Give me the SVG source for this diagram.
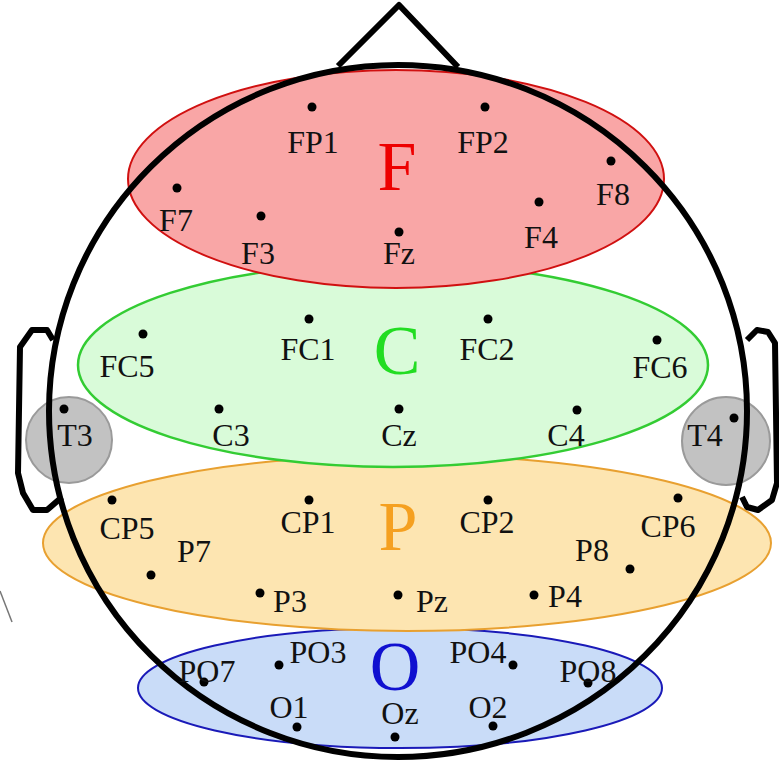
<svg xmlns="http://www.w3.org/2000/svg" width="779" height="763" viewBox="0 0 779 763">
<style>
.lbl{font-family:"Liberation Serif","Times New Roman",serif;font-size:32px;fill:#111;text-anchor:middle}
.big{font-family:"Liberation Serif","Times New Roman",serif;font-size:70px;text-anchor:middle}
.dot{fill:#000}
.outline{fill:none;stroke:#000;stroke-width:6;stroke-linejoin:round}
</style>
<rect width="779" height="763" fill="#fff"/>
<g id="regions">
<ellipse id="region-O" cx="400" cy="688" rx="262" ry="60" fill="#c9dcf8" stroke="#1a1ab8" stroke-width="2"/>
<ellipse id="region-P" cx="407" cy="543" rx="364" ry="88" fill="#fde5b1" stroke="#e8a030" stroke-width="2"/>
<ellipse id="region-C" cx="393" cy="365" rx="315" ry="102" fill="#d9fbd9" stroke="#33cc33" stroke-width="2.5"/>
<ellipse id="region-F" cx="396" cy="179" rx="268" ry="109" fill="#f9a6a6" stroke="#d01010" stroke-width="2"/>
<circle id="T3-zone" cx="69" cy="440" r="43" fill="#c2c2c2" stroke="#9a9a9a" stroke-width="2"/>
<circle id="T4-zone" cx="726" cy="441" r="44" fill="#c2c2c2" stroke="#9a9a9a" stroke-width="2"/>
</g>
<g id="head">
<ellipse cx="398" cy="411" rx="349" ry="346" class="outline"/>
<polyline class="outline" points="338,66 399,5 458,67"/>
<path class="outline" d="M53,340 L47,330 L32,330 L20,347 L18,473 L23,493 L33,510 L47,510 L62,497"/>
<path class="outline" d="M747,340 L757,330 L768,332 L775,343 L777,483 L772,500 L758,510 L747,507 L742,497"/>
<line x1="0" y1="591" x2="12" y2="622" stroke="#777" stroke-width="1.5"/>
</g>
<g id="region-letters">
<text class="big" x="397" y="190" fill="#ee0000">F</text>
<text class="big" x="397" y="374" fill="#22dd22">C</text>
<text class="big" x="398" y="550" fill="#f5a020">P</text>
<text class="big" x="395" y="690" fill="#1010d0">O</text>
</g>
<g id="FP1"><circle class="dot" cx="312" cy="107" r="4.5"/><text class="lbl" x="313" y="153">FP1</text></g>
<g id="FP2"><circle class="dot" cx="485" cy="107" r="4.5"/><text class="lbl" x="483" y="153">FP2</text></g>
<g id="F7"><circle class="dot" cx="177" cy="188" r="4.5"/><text class="lbl" x="176" y="231">F7</text></g>
<g id="F3"><circle class="dot" cx="261" cy="216" r="4.5"/><text class="lbl" x="258" y="264">F3</text></g>
<g id="Fz"><circle class="dot" cx="399" cy="232" r="4.5"/><text class="lbl" x="399" y="264">Fz</text></g>
<g id="F4"><circle class="dot" cx="539" cy="202" r="4.5"/><text class="lbl" x="541" y="248">F4</text></g>
<g id="F8"><circle class="dot" cx="611" cy="161" r="4.5"/><text class="lbl" x="613" y="205">F8</text></g>
<g id="FC5"><circle class="dot" cx="143" cy="334" r="4.5"/><text class="lbl" x="127" y="377">FC5</text></g>
<g id="FC1"><circle class="dot" cx="309" cy="319" r="4.5"/><text class="lbl" x="308" y="360">FC1</text></g>
<g id="FC2"><circle class="dot" cx="488" cy="319" r="4.5"/><text class="lbl" x="487" y="360">FC2</text></g>
<g id="FC6"><circle class="dot" cx="657" cy="340" r="4.5"/><text class="lbl" x="660" y="378">FC6</text></g>
<g id="T3"><circle class="dot" cx="64" cy="409" r="4.5"/><text class="lbl" x="75" y="446">T3</text></g>
<g id="C3"><circle class="dot" cx="219" cy="409" r="4.5"/><text class="lbl" x="231" y="446">C3</text></g>
<g id="Cz"><circle class="dot" cx="399" cy="409" r="4.5"/><text class="lbl" x="399" y="446">Cz</text></g>
<g id="C4"><circle class="dot" cx="577" cy="410" r="4.5"/><text class="lbl" x="566" y="446">C4</text></g>
<g id="T4"><circle class="dot" cx="734" cy="418" r="4.5"/><text class="lbl" x="705" y="446">T4</text></g>
<g id="CP5"><circle class="dot" cx="112" cy="500" r="4.5"/><text class="lbl" x="127" y="539">CP5</text></g>
<g id="CP1"><circle class="dot" cx="309" cy="500" r="4.5"/><text class="lbl" x="308" y="533">CP1</text></g>
<g id="CP2"><circle class="dot" cx="488" cy="500" r="4.5"/><text class="lbl" x="487" y="533">CP2</text></g>
<g id="CP6"><circle class="dot" cx="678" cy="498" r="4.5"/><text class="lbl" x="668" y="537">CP6</text></g>
<g id="P7"><circle class="dot" cx="151" cy="575" r="4.5"/><text class="lbl" x="194" y="562">P7</text></g>
<g id="P8"><circle class="dot" cx="630" cy="569" r="4.5"/><text class="lbl" x="592" y="561">P8</text></g>
<g id="P3"><circle class="dot" cx="260" cy="593" r="4.5"/><text class="lbl" x="290" y="612">P3</text></g>
<g id="Pz"><circle class="dot" cx="398" cy="595" r="4.5"/><text class="lbl" x="432" y="612">Pz</text></g>
<g id="P4"><circle class="dot" cx="534" cy="595" r="4.5"/><text class="lbl" x="565" y="607">P4</text></g>
<g id="PO7"><circle class="dot" cx="204" cy="682" r="4.5"/><text class="lbl" x="207" y="682">PO7</text></g>
<g id="PO3"><circle class="dot" cx="279" cy="665" r="4.5"/><text class="lbl" x="318" y="663">PO3</text></g>
<g id="PO4"><circle class="dot" cx="513" cy="665" r="4.5"/><text class="lbl" x="478" y="663">PO4</text></g>
<g id="PO8"><circle class="dot" cx="588" cy="683" r="4.5"/><text class="lbl" x="588" y="682">PO8</text></g>
<g id="O1"><circle class="dot" cx="297" cy="727" r="4.5"/><text class="lbl" x="289" y="718">O1</text></g>
<g id="Oz"><circle class="dot" cx="395" cy="737" r="4.5"/><text class="lbl" x="400" y="724">Oz</text></g>
<g id="O2"><circle class="dot" cx="493" cy="726" r="4.5"/><text class="lbl" x="488" y="718">O2</text></g>
<g id="connectors"></g>
</svg>
